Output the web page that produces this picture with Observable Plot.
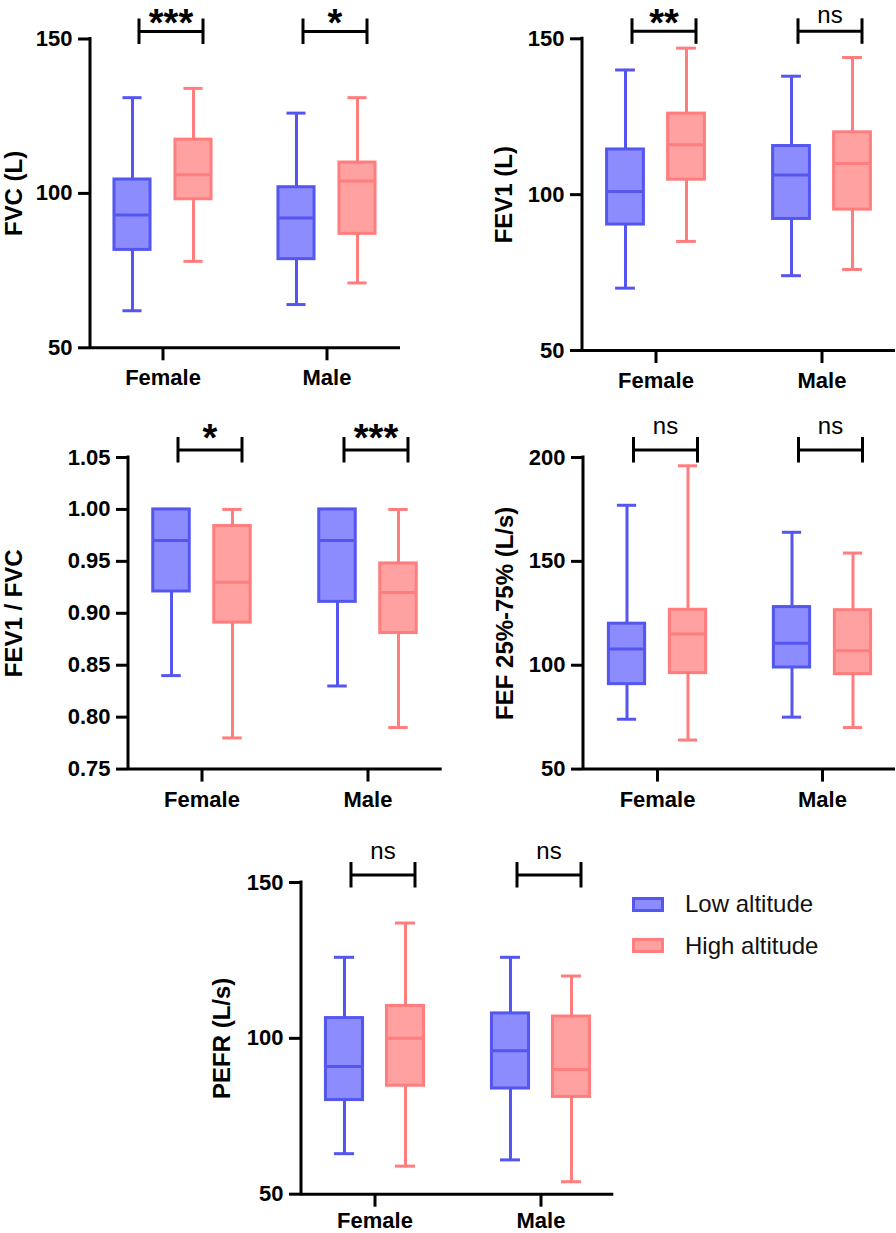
<!DOCTYPE html>
<html>
<head>
<meta charset="utf-8">
<script src="https://cdn.jsdelivr.net/npm/d3@7"></script>
<script src="https://cdn.jsdelivr.net/npm/@observablehq/plot@0.6"></script>
<style>
  body { margin: 0; background: #ffffff; }
  #chart { position: relative; width: 896px; height: 1233px; overflow: hidden; background: #fff;
           font-family: "Liberation Sans", Arial, sans-serif; }
  #chart svg { position: absolute; overflow: visible; }
  .legend-item { position: absolute; display: flex; align-items: center; font-size: 24px; color: #111; }
  .legend-swatch { box-sizing: border-box; width: 32px; height: 15px; border: 3px solid; margin-right: 21px; }
</style>
</head>
<body>
<div id="chart"></div>
<script>
// ---------- data ----------
const sexes = ["Female", "Male"];
const groups = ["Low altitude", "High altitude"];
// each row: [min, Q1, median, Q3, max]; first row Female, second Male
const fvcLow   = [[62, 81.7, 93, 104.5, 131], [64, 78.7, 92, 102, 126]];
const fvcHigh  = [[78, 98.1, 106, 117.4, 134], [71, 86.9, 104, 110, 131]];
const fev1Low  = [[70, 90.4, 101, 114.5, 140], [74, 92.2, 106.3, 115.6, 138]];
const fev1High = [[85, 104.8, 116, 126, 147], [76, 95.2, 110, 120, 144]];
const ratioLow  = [[0.84, 0.921, 0.97, 1.0, 1.0], [0.83, 0.911, 0.97, 1.0, 1.0]];
const ratioHigh = [[0.78, 0.891, 0.93, 0.984, 1.0], [0.79, 0.881, 0.92, 0.948, 1.0]];
const fefLow  = [[74, 90.9, 107.8, 120, 177], [75, 98.9, 110.6, 128, 164]];
const fefHigh = [[64, 96.2, 115, 126.7, 196], [70, 95.7, 107, 126.5, 154]];
const pefrLow  = [[63, 80.2, 91, 106.5, 126], [61, 83.9, 96, 108, 126]];
const pefrHigh = [[59, 84.8, 100, 110.4, 137], [54, 81.2, 90, 107, 120]];
// significance labels (Female, Male)
const fvcSig = ["***", "*"];
const fev1Sig = ["**", "ns"];
const ratioSig = ["*", "***"];
const fefSig = ["ns", "ns"];
const pefrSig = ["ns", "ns"];
// tick values
const fvcTicks = [50, 100, 150];
const fev1Ticks = [50, 100, 150];
const ratioTicks = [0.75, 0.80, 0.85, 0.90, 0.95, 1.00, 1.05];
const fefTicks = [50, 100, 150, 200];
const pefrTicks = [50, 100, 150];
// axis titles
const titles = ["FVC (L)", "FEV1 (L)", "FEV1 / FVC", "FEF 25%-75% (L/s)", "PEFR (L/s)"];

// ---------- styles / layout ----------
const fills = ["#8c8cff", "#ffa1a1"];
const strokes = ["#5555f0", "#ff7d7d"];
const FONT = '"Liberation Sans", Arial, sans-serif';

const panels = [
  {low: fvcLow, high: fvcHigh, sig: fvcSig, ticks: fvcTicks, title: titles[0], fmt: d3.format("d"),
   axisX: 90, frameTop: 38.5, frameW: 310, frameH: 308.8, labelDx: -76.5, xPad: 9},
  {low: fev1Low, high: fev1High, sig: fev1Sig, ticks: fev1Ticks, title: titles[1], fmt: d3.format("d"),
   axisX: 581.7, frameTop: 38.3, frameW: 313, frameH: 311.7, labelDx: -77.7, xPad: 9},
  {low: ratioLow, high: ratioHigh, sig: ratioSig, ticks: ratioTicks, title: titles[2], fmt: d3.format(".2f"),
   axisX: 128, frameTop: 456.7, frameW: 313.7, frameH: 311.6, labelDx: -114, xPad: 9},
  {low: fefLow, high: fefHigh, sig: fefSig, ticks: fefTicks, title: titles[3], fmt: d3.format("d"),
   axisX: 582.7, frameTop: 456.7, frameW: 312, frameH: 311.6, labelDx: -78, xPad: 9},
  {low: pefrLow, high: pefrHigh, sig: pefrSig, ticks: pefrTicks, title: titles[4], fmt: d3.format("d"),
   axisX: 300.7, frameTop: 882.3, frameW: 312.3, frameH: 311.7, labelDx: -78.7, xPad: 5}
];

const chart = document.getElementById("chart");

// keep the text box of a label (font ascent) inside the page
function safeDy(dy, fs, frameTop) {
  return Math.max(dy, 1 - frameTop + 0.585 * fs);
}

function makePanel(p) {
  const rows = [];
  sexes.forEach((s, i) => {
    [p.low, p.high].forEach((arr, g) => {
      const [mn, q1, md, q3, mx] = arr[i];
      rows.push({sex: s, group: groups[g], mn, q1, md, q3, mx});
    });
  });
  const yMin = p.ticks[0], yMax = p.ticks[p.ticks.length - 1];
  const mT = Math.min(50, p.frameTop);
  const mL = 130, mR = 12, mB = 38;
  const pi = 0.2, po = 0.04;
  const step = p.frameW / (sexes.length - pi + 2 * po);
  const bw = step * (1 - pi);
  const ppu = p.frameH / (yMax - yMin);
  const boxW = 37, capW = 20, off = 30.5;
  const bOff = 8, bHalf = 32;
  const starFs = 38, nsFs = 24;

  const marks = [];
  // left axis line
  marks.push((index, scales, values, dims) => {
    const l = document.createElementNS("http://www.w3.org/2000/svg", "line");
    l.setAttribute("x1", dims.marginLeft); l.setAttribute("x2", dims.marginLeft);
    l.setAttribute("y1", scales.y(yMin) + 1.5); l.setAttribute("y2", scales.y(yMax) - 1.5);
    l.setAttribute("stroke", "#000"); l.setAttribute("stroke-width", 3);
    return l;
  });
  marks.push(Plot.ruleY([yMin], {stroke: "#000", strokeWidth: 3}));
  marks.push(Plot.axisY({ticks: p.ticks, tickFormat: p.fmt, tickSize: 12, tickPadding: 6,
    strokeWidth: 3, fontSize: 22, fontWeight: "bold", label: null}));
  marks.push(Plot.axisX({tickSize: 13, tickPadding: p.xPad, strokeWidth: 3, fontSize: 22,
    fontWeight: "bold", label: null}));

  groups.forEach((grp, g) => {
    const d = rows.filter(r => r.group === grp);
    const dx = g === 0 ? -off : off;
    const stroke = strokes[g], fill = fills[g];
    const capIn = (bw - capW) / 2, boxIn = (bw - boxW) / 2;
    marks.push(Plot.ruleX(d, {x: "sex", y1: "mn", y2: "mx", dx, stroke, strokeWidth: 3}));
    marks.push(Plot.ruleY(d, {x1: "sex", x2: "sex", y: "mn", dx, insetLeft: capIn, insetRight: capIn, stroke, strokeWidth: 3}));
    marks.push(Plot.ruleY(d, {x1: "sex", x2: "sex", y: "mx", dx, insetLeft: capIn, insetRight: capIn, stroke, strokeWidth: 3}));
    marks.push(Plot.barY(d, {x: "sex", y1: "q1", y2: "q3", dx, insetLeft: boxIn, insetRight: boxIn, fill, stroke, strokeWidth: 3}));
    marks.push(Plot.ruleY(d, {x1: "sex", x2: "sex", y: "md", dx, insetLeft: boxIn, insetRight: boxIn, stroke, strokeWidth: 3}));
  });

  // significance brackets
  marks.push(Plot.ruleY(sexes, {x1: d => d, x2: d => d, y: () => yMax, dy: -7.5,
    insetLeft: bw / 2 - bHalf + bOff, insetRight: bw / 2 - bHalf - bOff, stroke: "#000", strokeWidth: 3}));
  [-bHalf, bHalf].forEach(o => {
    marks.push(Plot.ruleX(sexes, {x: d => d, y1: () => yMax + 20 / ppu, y2: () => yMax - 5.5 / ppu,
      dx: bOff + o, stroke: "#000", strokeWidth: 3}));
  });
  const stars = sexes.map((s, i) => ({sex: s, t: p.sig[i]}));
  marks.push(Plot.text(stars.filter(d => d.t !== "ns"), {x: "sex", text: "t", frameAnchor: "top",
    dx: bOff, dy: safeDy(-19, starFs, p.frameTop), fontSize: starFs, fontWeight: "bold", lineAnchor: "middle", fill: "#000"}));
  marks.push(Plot.text(stars.filter(d => d.t === "ns"), {x: "sex", text: "t", frameAnchor: "top",
    dx: bOff, dy: safeDy(-31, nsFs, p.frameTop), fontSize: nsFs, fontWeight: "normal", lineAnchor: "middle", fill: "#000"}));

  // y title
  marks.push(Plot.text([p.title], {frameAnchor: "left", rotate: -90, dx: p.labelDx, fontSize: 24,
    fontWeight: "bold", textAnchor: "middle", lineAnchor: "middle", fill: "#000"}));

  const svg = Plot.plot({
    width: mL + p.frameW + mR,
    height: mT + p.frameH + mB,
    marginLeft: mL, marginRight: mR, marginTop: mT, marginBottom: mB,
    x: {domain: sexes, paddingInner: pi, paddingOuter: po, axis: null},
    y: {domain: [yMin, yMax], nice: false, axis: null},
    style: {fontFamily: FONT, fontSize: "22px", fontWeight: "bold", color: "#000", background: "transparent", overflow: "visible"},
    marks
  });
  svg.style.left = (p.axisX - mL) + "px";
  svg.style.top = (p.frameTop - mT) + "px";
  chart.appendChild(svg);
}

panels.forEach(makePanel);

// legend
const legendPos = [{left: 632, top: 896.7}, {left: 632, top: 938}];
groups.forEach((g, i) => {
  const item = document.createElement("div");
  item.className = "legend-item";
  item.style.left = legendPos[i].left + "px";
  item.style.top = (legendPos[i].top - 7) + "px";
  item.style.height = "29px";
  const sw = document.createElement("div");
  sw.className = "legend-swatch";
  sw.style.background = fills[i];
  sw.style.borderColor = strokes[i];
  const tx = document.createElement("span");
  tx.textContent = g;
  item.appendChild(sw); item.appendChild(tx);
  chart.appendChild(item);
});
</script>
</body>
</html>
